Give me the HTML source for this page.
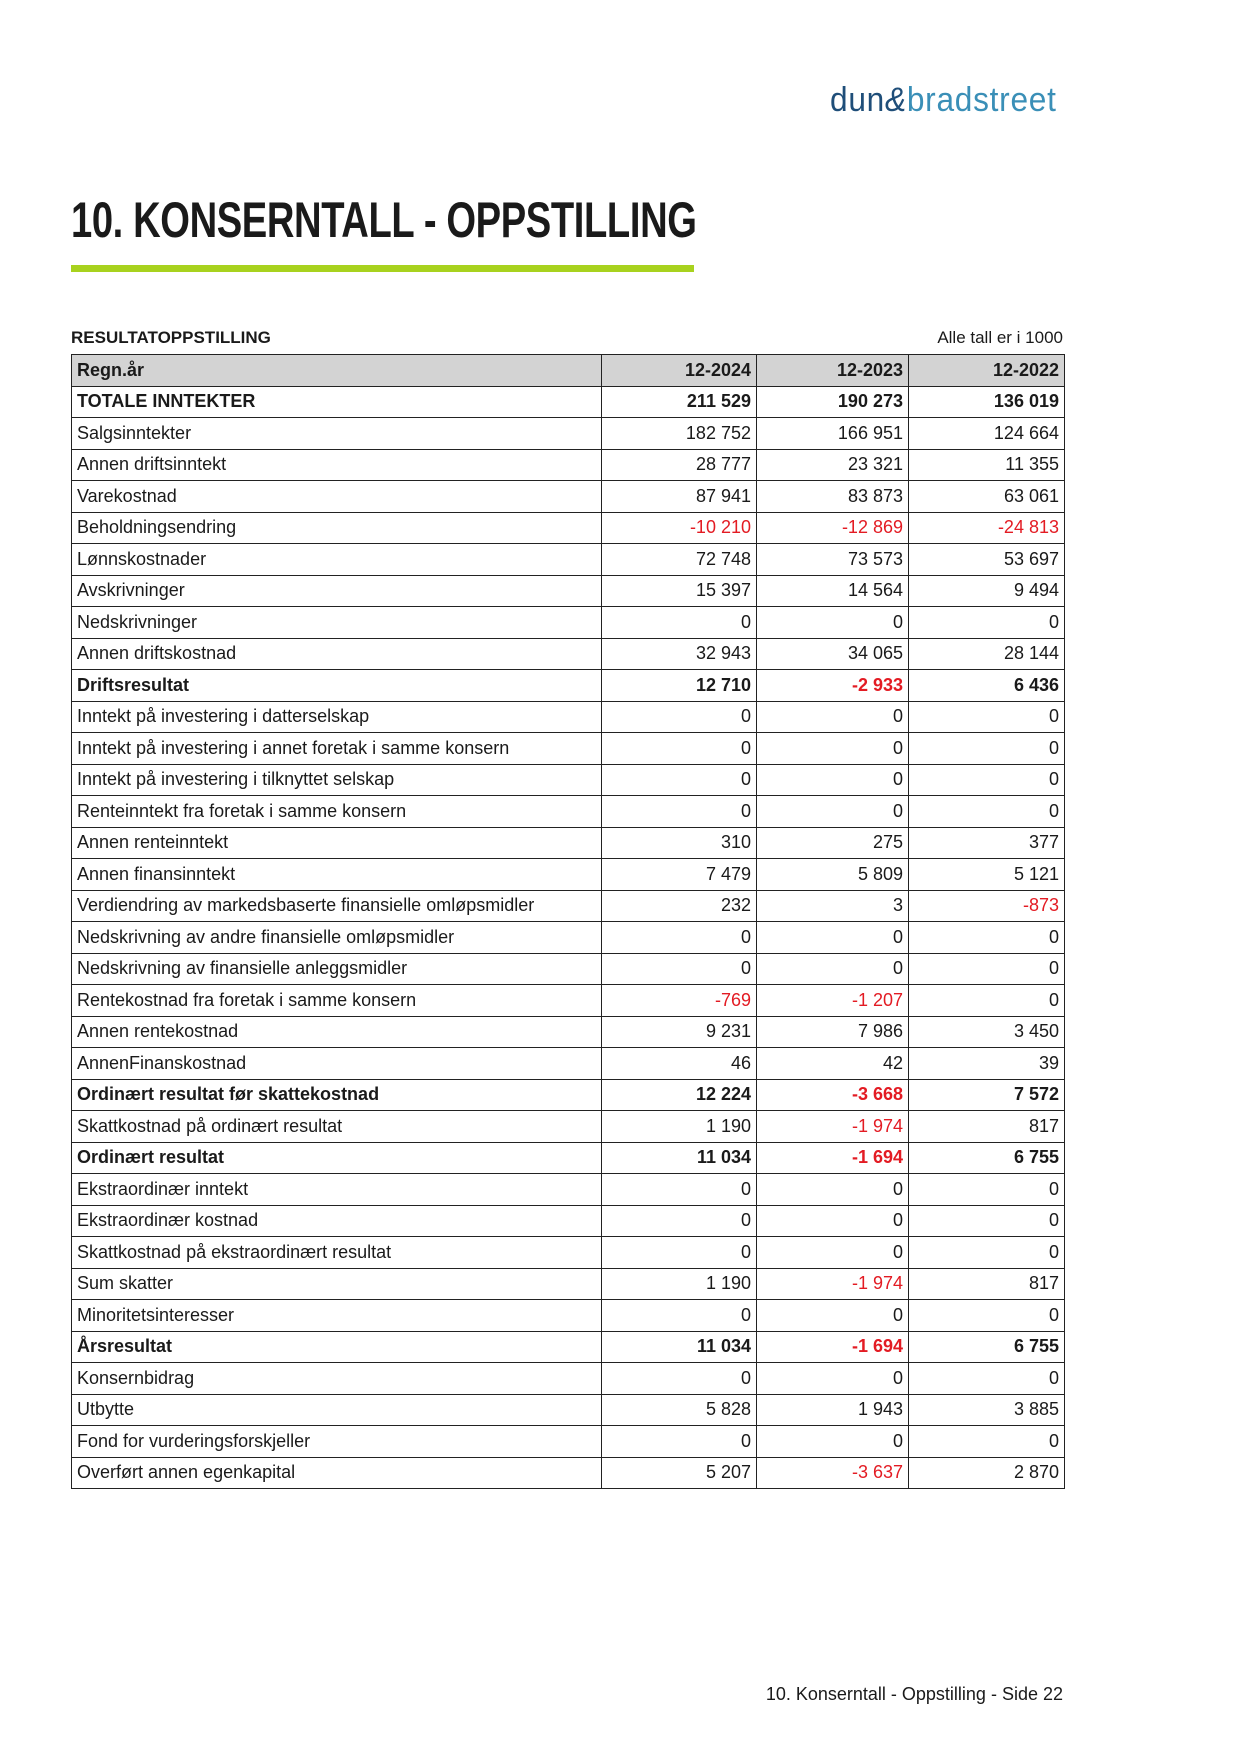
<!DOCTYPE html>
<html><head><meta charset="utf-8"><style>
*{margin:0;padding:0;box-sizing:border-box}
body{width:1241px;height:1754px;background:#fff;position:relative;font-family:"Liberation Sans",sans-serif;color:#1a1a1a;overflow:hidden}
.logo{position:absolute;left:830px;top:81px;font-size:34px;letter-spacing:0.8px;transform:scaleX(0.93);transform-origin:left}
.logo .d{color:#1f4e79}.logo .a{color:#1f4e79;font-style:italic}.logo .b{color:#3a8fb7}
h1{position:absolute;left:71px;top:191px;font-size:50px;font-weight:bold;transform:scaleX(0.763);transform-origin:left;white-space:nowrap;letter-spacing:-0.5px}
.bar{position:absolute;left:71px;top:265px;width:623px;height:7px;background:#a8d21e}
.sub{position:absolute;left:71px;top:328px;font-size:17px;font-weight:bold}
.unit{position:absolute;left:763px;top:328px;font-size:17px;width:300px;text-align:right}
table{position:absolute;left:71px;top:354px;border-collapse:collapse;font-size:18px;table-layout:fixed;width:993px}
td{border:1.3px solid #222;height:31.5px;padding:0 5px;white-space:nowrap}
td:nth-child(1){width:530px}
td:nth-child(2){width:155px;text-align:right}
td:nth-child(3){width:152px;text-align:right}
td:nth-child(4){width:156px;text-align:right}
tr.h td{background:#d3d3d3;font-weight:bold}
tr.b td{font-weight:bold}
.r{color:#e31b23}
.foot{position:absolute;left:591px;width:472px;text-align:right;top:1684px;font-size:18px}
</style></head><body>
<div class="logo"><span class="d">dun</span><span class="a">&amp;</span><span class="b">bradstreet</span></div>
<h1>10. KONSERNTALL - OPPSTILLING</h1>
<div class="bar"></div>
<div class="sub">RESULTATOPPSTILLING</div>
<div class="unit">Alle tall er i 1000</div>
<table>
<tr class="h"><td>Regn.år</td><td>12-2024</td><td>12-2023</td><td>12-2022</td></tr>
<tr class="b"><td>TOTALE INNTEKTER</td><td>211 529</td><td>190 273</td><td>136 019</td></tr>
<tr><td>Salgsinntekter</td><td>182 752</td><td>166 951</td><td>124 664</td></tr>
<tr><td>Annen driftsinntekt</td><td>28 777</td><td>23 321</td><td>11 355</td></tr>
<tr><td>Varekostnad</td><td>87 941</td><td>83 873</td><td>63 061</td></tr>
<tr><td>Beholdningsendring</td><td class="r">-10 210</td><td class="r">-12 869</td><td class="r">-24 813</td></tr>
<tr><td>Lønnskostnader</td><td>72 748</td><td>73 573</td><td>53 697</td></tr>
<tr><td>Avskrivninger</td><td>15 397</td><td>14 564</td><td>9 494</td></tr>
<tr><td>Nedskrivninger</td><td>0</td><td>0</td><td>0</td></tr>
<tr><td>Annen driftskostnad</td><td>32 943</td><td>34 065</td><td>28 144</td></tr>
<tr class="b"><td>Driftsresultat</td><td>12 710</td><td class="r">-2 933</td><td>6 436</td></tr>
<tr><td>Inntekt på investering i datterselskap</td><td>0</td><td>0</td><td>0</td></tr>
<tr><td>Inntekt på investering i annet foretak i samme konsern</td><td>0</td><td>0</td><td>0</td></tr>
<tr><td>Inntekt på investering i tilknyttet selskap</td><td>0</td><td>0</td><td>0</td></tr>
<tr><td>Renteinntekt fra foretak i samme konsern</td><td>0</td><td>0</td><td>0</td></tr>
<tr><td>Annen renteinntekt</td><td>310</td><td>275</td><td>377</td></tr>
<tr><td>Annen finansinntekt</td><td>7 479</td><td>5 809</td><td>5 121</td></tr>
<tr><td>Verdiendring av markedsbaserte finansielle omløpsmidler</td><td>232</td><td>3</td><td class="r">-873</td></tr>
<tr><td>Nedskrivning av andre finansielle omløpsmidler</td><td>0</td><td>0</td><td>0</td></tr>
<tr><td>Nedskrivning av finansielle anleggsmidler</td><td>0</td><td>0</td><td>0</td></tr>
<tr><td>Rentekostnad fra foretak i samme konsern</td><td class="r">-769</td><td class="r">-1 207</td><td>0</td></tr>
<tr><td>Annen rentekostnad</td><td>9 231</td><td>7 986</td><td>3 450</td></tr>
<tr><td>AnnenFinanskostnad</td><td>46</td><td>42</td><td>39</td></tr>
<tr class="b"><td>Ordinært resultat før skattekostnad</td><td>12 224</td><td class="r">-3 668</td><td>7 572</td></tr>
<tr><td>Skattkostnad på ordinært resultat</td><td>1 190</td><td class="r">-1 974</td><td>817</td></tr>
<tr class="b"><td>Ordinært resultat</td><td>11 034</td><td class="r">-1 694</td><td>6 755</td></tr>
<tr><td>Ekstraordinær inntekt</td><td>0</td><td>0</td><td>0</td></tr>
<tr><td>Ekstraordinær kostnad</td><td>0</td><td>0</td><td>0</td></tr>
<tr><td>Skattkostnad på ekstraordinært resultat</td><td>0</td><td>0</td><td>0</td></tr>
<tr><td>Sum skatter</td><td>1 190</td><td class="r">-1 974</td><td>817</td></tr>
<tr><td>Minoritetsinteresser</td><td>0</td><td>0</td><td>0</td></tr>
<tr class="b"><td>Årsresultat</td><td>11 034</td><td class="r">-1 694</td><td>6 755</td></tr>
<tr><td>Konsernbidrag</td><td>0</td><td>0</td><td>0</td></tr>
<tr><td>Utbytte</td><td>5 828</td><td>1 943</td><td>3 885</td></tr>
<tr><td>Fond for vurderingsforskjeller</td><td>0</td><td>0</td><td>0</td></tr>
<tr><td>Overført annen egenkapital</td><td>5 207</td><td class="r">-3 637</td><td>2 870</td></tr>
</table>
<div class="foot">10. Konserntall - Oppstilling - Side 22</div>
</body></html>
